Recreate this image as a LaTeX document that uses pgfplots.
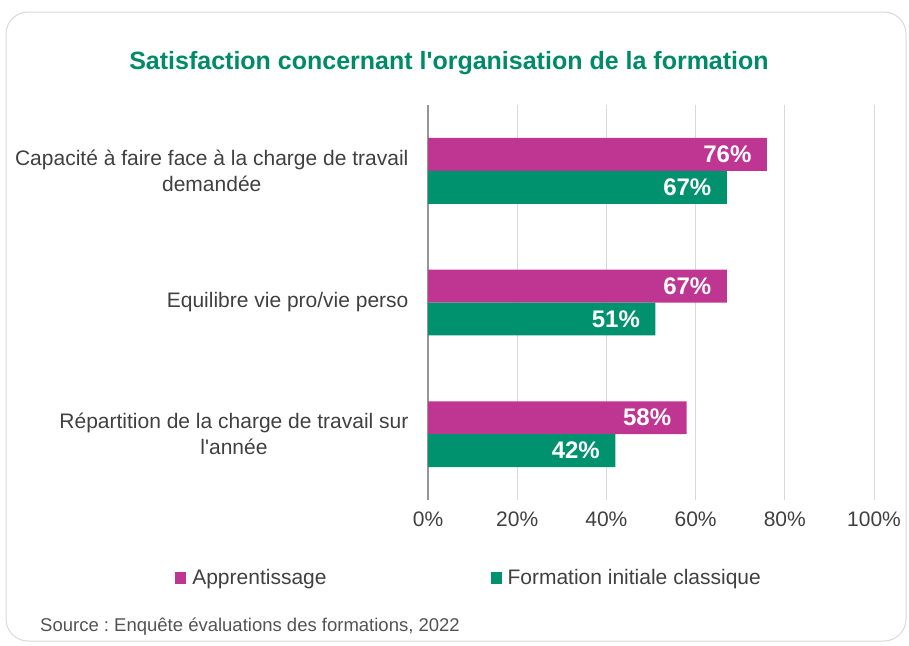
\documentclass[border=0pt]{standalone}
\usepackage{pgfplots}
\pgfplotsset{compat=1.18}
\usepackage{fontspec}
\setmainfont{Liberation Sans}
\frenchspacing
\definecolor{mag}{RGB}{190,53,146}
\definecolor{grn}{RGB}{0,145,110}
\definecolor{ttl}{RGB}{0,138,104}
\definecolor{txt}{RGB}{64,64,64}
\definecolor{gridc}{RGB}{217,217,217}
\definecolor{axc}{RGB}{150,150,150}
\begin{document}
\begin{tikzpicture}[x=1pt,y=1pt]
\useasboundingbox (0,0) rectangle (909,-645);
\draw[gridc, line width=1pt, rounded corners=22pt] (6,-12) rectangle (906,-641);
\node[text=ttl, font=\fontsize{25}{28}\selectfont\bfseries] at (449,-63) {Satisfaction concernant l\textquotesingle organisation de la formation};
\begin{axis}[
  at={(428pt,-500pt)}, anchor=south west,
  scale only axis, width=446pt, height=395pt,
  xbar, xmin=0, xmax=100, ymin=-0.5, ymax=2.5, y dir=reverse,
  bar width=0.25,
  axis lines*=left,
  x axis line style={draw=none},
  y axis line style={axc, line width=1.2pt},
  major tick length=0pt,
  xmajorgrids, major grid style={gridc, line width=1pt},
  xtick={0,20,...,100},
  xticklabel={\pgfmathprintnumber{\tick}\%},
  /pgf/number format/assume math mode=true,
  xticklabel style={font=\fontsize{21}{24}\selectfont, text=txt, yshift=-8pt},
  ytick={0,1,2},
  yticklabels={{Capacité à faire face à la charge de travail\\demandée},{Equilibre vie pro/vie perso},{Répartition de la charge de travail sur\\l\textquotesingle année}},
  yticklabel style={align=center, font=\fontsize{21}{26}\selectfont, text=txt, xshift=-16pt},
  nodes near coords={\pgfmathprintnumber{\pgfplotspointmeta}\%},
  point meta=x,
  every node near coord/.append style={anchor=east, xshift=-12pt, text=white, font=\fontsize{24}{26}\selectfont\bfseries},
  legend columns=2,
  legend style={at={(axis description cs:-0.567,-0.197)}, anchor=west, draw=none, fill=none, inner sep=0pt,
    font=\fontsize{21}{24}\selectfont, text=txt,
    /tikz/every odd column/.append style={column sep=4pt},
    /tikz/every even column/.append style={column sep=162pt}},
  legend image code/.code={\fill[#1] (0pt,-6pt) rectangle (11pt,6pt);},
]
\addplot[fill=mag, draw=none, bar shift=-0.125] coordinates {(76,0) (67,1) (58,2)};
\addlegendentry{Apprentissage}
\addplot[fill=grn, draw=none, bar shift=0.125] coordinates {(67,0) (51,1) (42,2)};
\addlegendentry{Formation initiale classique}
\end{axis}
\node[anchor=west, inner sep=0pt, text=txt!90, font=\fontsize{18.5}{22}\selectfont] at (40,-627) {Source : Enquête évaluations des formations, 2022};
\end{tikzpicture}
\end{document}
